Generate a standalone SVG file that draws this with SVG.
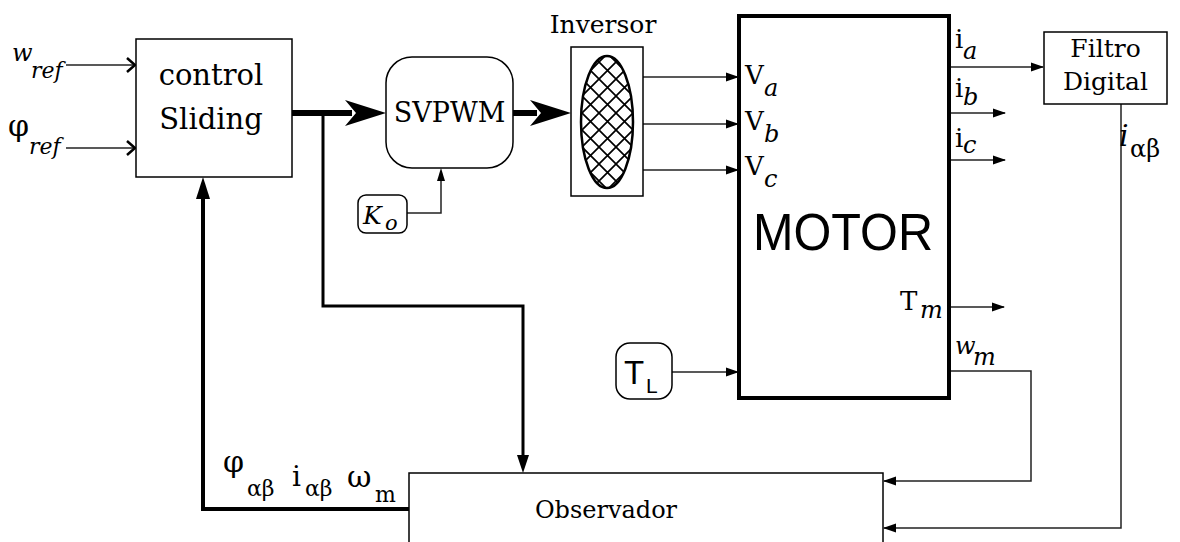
<svg xmlns="http://www.w3.org/2000/svg" width="1180" height="542" viewBox="0 0 1180 542">
<style>
.t{font-family:"DejaVu Serif","Liberation Serif",serif;fill:#000}
.it{font-style:italic}
.s{font-family:"Liberation Sans",Arial,sans-serif;fill:#000}
.box{fill:#fff;stroke:#000;stroke-width:1.5}
.ln{fill:none;stroke:#222;stroke-width:1.5}
.ah{fill:#000;stroke:none}
</style>
<defs>
<pattern id="hatch" patternUnits="userSpaceOnUse" width="17" height="17" x="599" y="113">
<path d="M0,0 L17,17 M17,0 L0,17" stroke="#000" stroke-width="1.7" fill="none"/>
</pattern>
<marker id="ar" markerUnits="userSpaceOnUse" markerWidth="14" markerHeight="10" refX="12" refY="5" orient="auto">
<path d="M0,0.5 L13,5 L0,9.5 z" fill="#000"/>
</marker>
</defs>

<g id="connectors">
<!-- inputs -->
<path class="ln" d="M66,65 H134"/>
<path d="M127,58 L135,65 L127,72" fill="none" stroke="#000" stroke-width="2.5"/>
<path class="ln" d="M66,148 H134"/>
<path d="M127,141 L135,148 L127,155" fill="none" stroke="#000" stroke-width="2.5"/>
<!-- thick control -> SVPWM -->
<path d="M292,113 H352" fill="none" stroke="#000" stroke-width="6"/>
<path class="ah" d="M386,113 L345,100 L356,113 L345,126 z"/>
<!-- SVPWM -> inversor -->
<path d="M513,113 H537" fill="none" stroke="#000" stroke-width="6"/>
<path class="ah" d="M571,113 L530,100 L541,113 L530,126 z"/>
<!-- branch to observer -->
<path d="M323,113 V306 H523 V460" fill="none" stroke="#000" stroke-width="3"/>
<path class="ah" d="M523,473 L517,455 L529,455 z"/>
<!-- feedback to control -->
<path d="M409,509 H203 V196" fill="none" stroke="#000" stroke-width="4"/>
<path class="ah" d="M203,177 L196,199 L210,199 z"/>
<!-- Ko -> SVPWM -->
<path class="ln" d="M407,213 H441 V180"/>
<path class="ah" d="M441,168 L437,181 L445,181 z"/>
<!-- inversor -> motor -->
<path class="ln" d="M643,77 H738" marker-end="url(#ar)"/>
<path class="ln" d="M643,124 H738" marker-end="url(#ar)"/>
<path class="ln" d="M643,170 H738" marker-end="url(#ar)"/>
<!-- TL -> motor -->
<path class="ln" d="M672,372 H738" marker-end="url(#ar)"/>
<!-- motor outputs -->
<path class="ln" d="M949,67 H1043" marker-end="url(#ar)"/>
<path class="ln" d="M949,113 H1005" marker-end="url(#ar)"/>
<path class="ln" d="M949,160 H1005" marker-end="url(#ar)"/>
<path class="ln" d="M949,307 H1004" marker-end="url(#ar)"/>
<path class="ln" d="M949,371 H1031 V481 H884" marker-end="url(#ar)"/>
<path class="ln" d="M1121,104 V528 H884" marker-end="url(#ar)"/>
<!-- signal labels -->
<text class="t it" x="12" y="61" font-size="24">w</text>
<text class="t it" x="31" y="78" font-size="22">ref</text>
<text class="t" x="8" y="136" font-size="30">φ</text>
<text class="t it" x="29" y="154" font-size="22">ref</text>
<text class="t" x="223" y="472" font-size="30">φ</text>
<text class="t" x="247" y="496" font-size="22">αβ</text>
<text class="t" x="292" y="486" font-size="28">i</text>
<text class="t" x="305" y="496" font-size="22">αβ</text>
<text class="t" x="347" y="487" font-size="30">ω</text>
<text class="t" x="375" y="502" font-size="22">m</text>
<text class="t it" x="1119" y="146" font-size="30">i</text>
<text class="t" x="1130" y="157" font-size="24">αβ</text>
</g>

<g id="control">
<rect class="box" x="136" y="39" width="156" height="138"/>
<text class="t" x="211" y="85" font-size="29" text-anchor="middle">control</text>
<text class="t" x="211" y="129" font-size="29" text-anchor="middle">Sliding</text>
</g>

<g id="svpwm">
<rect class="box" x="386" y="57" width="127" height="111" rx="26"/>
<text class="t" x="449.5" y="122" font-size="27" text-anchor="middle">SVPWM</text>
</g>

<g id="ko">
<rect class="box" x="358" y="195" width="49" height="38" rx="8"/>
<text class="t it" x="363" y="224" font-size="25">K</text>
<text class="t it" x="385" y="230" font-size="21">o</text>
</g>

<g id="inversor">
<text class="t" x="603" y="33" font-size="25" text-anchor="middle">Inversor</text>
<rect class="box" x="571" y="47" width="72" height="149"/>
<ellipse cx="607" cy="122" rx="26" ry="66" fill="url(#hatch)" stroke="#000" stroke-width="2.5"/>
</g>

<g id="motor">
<rect x="739" y="16" width="210" height="382" fill="#fff" stroke="#000" stroke-width="4"/>
<text class="t" x="745" y="84" font-size="26">V</text>
<text class="t it" x="764" y="96" font-size="24">a</text>
<text class="t" x="745" y="130" font-size="26">V</text>
<text class="t it" x="764" y="142" font-size="24">b</text>
<text class="t" x="745" y="175" font-size="26">V</text>
<text class="t it" x="764" y="187" font-size="24">c</text>
<text class="s" x="843" y="250" font-size="51" text-anchor="middle" textLength="180" lengthAdjust="spacingAndGlyphs">MOTOR</text>
<text class="t" x="900" y="310" font-size="26">T</text>
<text class="t it" x="920" y="318" font-size="24">m</text>
<text class="t" x="955" y="48" font-size="26">i</text>
<text class="t it" x="963" y="59" font-size="24">a</text>
<text class="t" x="955" y="97" font-size="26">i</text>
<text class="t it" x="963" y="105" font-size="24">b</text>
<text class="t" x="955" y="147" font-size="26">i</text>
<text class="t it" x="963" y="153" font-size="24">c</text>
<text class="t it" x="955" y="354" font-size="24">w</text>
<text class="t it" x="973" y="365" font-size="24">m</text>
</g>

<g id="filtro">
<rect class="box" x="1044" y="32" width="123" height="72"/>
<text class="t" x="1105.5" y="57" font-size="25" text-anchor="middle">Filtro</text>
<text class="t" x="1105.5" y="90" font-size="25" text-anchor="middle">Digital</text>
</g>

<g id="tl">
<rect class="box" x="616" y="343" width="56" height="56" rx="14"/>
<text class="s" x="624" y="384" font-size="33">T</text>
<text class="s" x="646" y="393" font-size="21">L</text>
</g>

<g id="observador">
<rect class="box" x="409" y="473" width="474" height="90"/>
<text class="t" x="606" y="518" font-size="24" text-anchor="middle">Observador</text>
</g>
</svg>
